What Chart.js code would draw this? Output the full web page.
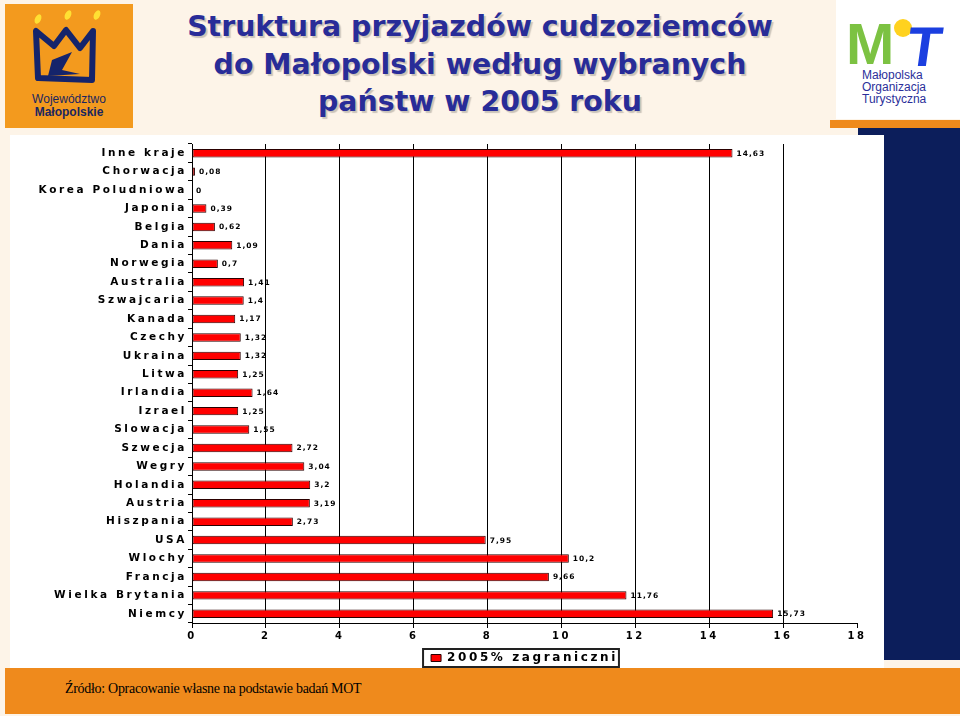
<!DOCTYPE html>
<html><head><meta charset="utf-8">
<script src="https://cdn.jsdelivr.net/npm/chart.js@4"></script>
<style>
html,body{margin:0;padding:0;}
body{width:960px;height:716px;position:relative;overflow:hidden;background:#FDF4E8;font-family:"Liberation Sans",Arial,sans-serif;}
.abs{position:absolute;}
#title{left:0;top:8px;width:960px;text-align:center;color:#282C98;font-family:"DejaVu Sans",Verdana,sans-serif;font-weight:bold;font-size:28.4px;line-height:37.5px;text-shadow:2px 2px 1px rgba(0,0,0,0.2);}
#navy{left:858px;top:128px;width:102px;height:532px;background:#0C1E5B;}
#ostrip{left:830px;top:120px;width:130px;height:8px;background:#EF8A1C;}
#panel{left:10px;top:135px;width:874px;height:533px;background:#fff;}
#band{left:5px;top:668px;width:955px;height:46px;background:#EF8A1C;}
#source{left:65px;top:681px;font-family:"Liberation Serif","Times New Roman",serif;font-size:14px;letter-spacing:-0.3px;color:#000;}
#chartwrap{left:10px;top:135px;width:874px;height:545px;}
</style></head>
<body>
<div class="abs" id="navy"></div>
<div class="abs" id="ostrip"></div>
<svg class="abs" style="left:0;top:0" width="960" height="135">
  <rect x="5" y="4" width="128" height="124" fill="#F39A1E"/>
  <ellipse cx="38" cy="19" rx="3" ry="5" transform="rotate(25 38 19)" fill="#FFE033"/>
  <ellipse cx="68" cy="15" rx="3" ry="5" transform="rotate(25 68 15)" fill="#FFE033"/>
  <ellipse cx="97" cy="15" rx="3" ry="5" transform="rotate(25 97 15)" fill="#FFE033"/>
  <path d="M36 31 L38 78 L92 80 L93 31 L80 48 L66 30 L54 46 Z" fill="none" stroke="#15246B" stroke-width="6" stroke-linejoin="round"/>
  <path d="M52 60 L72 52 L62 70 L80 74 L48 76 Z" fill="#15246B"/>
  <text x="69" y="103" text-anchor="middle" font-family="Liberation Sans, Arial" font-size="12" fill="#1A2660">Województwo</text>
  <text x="69" y="116" text-anchor="middle" font-family="Liberation Sans, Arial" font-size="12" font-weight="bold" fill="#1A2660">Małopolskie</text>
  <rect x="836" y="0" width="124" height="119" fill="#fff"/>
  <text x="846" y="64" font-family="Liberation Sans, Arial" font-size="58" font-weight="bold" fill="#7CC242">M</text>
  <circle cx="903" cy="28" r="9" fill="#FFD21F"/>
  <text x="904" y="66" font-family="Liberation Sans, Arial" font-size="56" font-weight="bold" fill="#1B3FE0" transform="skewX(-8) translate(10 0)">T</text>
  <text x="862" y="79" font-family="Liberation Sans, Arial" font-size="12" fill="#2B2F9A">Małopolska</text>
  <text x="862" y="91" font-family="Liberation Sans, Arial" font-size="12" fill="#2B2F9A">Organizacja</text>
  <text x="862" y="103" font-family="Liberation Sans, Arial" font-size="12" fill="#2B2F9A">Turystyczna</text>
</svg>
<div class="abs" id="title">Struktura przyjazdów cudzoziemców<br>do Małopolski według wybranych<br>państw w 2005 roku</div>
<div class="abs" id="panel"></div>
<div class="abs" id="band"></div>
<div class="abs" id="source">Źródło: Opracowanie własne na podstawie badań MOT</div>
<div class="abs" id="chartwrap"><canvas id="c" width="874" height="545"></canvas></div>
<script>
const categories = ["Inne kraje","Chorwacja","Korea Poludniowa","Japonia","Belgia","Dania","Norwegia","Australia","Szwajcaria","Kanada","Czechy","Ukraina","Litwa","Irlandia","Izrael","Slowacja","Szwecja","Wegry","Holandia","Austria","Hiszpania","USA","Wlochy","Francja","Wielka Brytania","Niemcy"];
const values = [14.63,0.08,0,0.39,0.62,1.09,0.7,1.41,1.4,1.17,1.32,1.32,1.25,1.64,1.25,1.55,2.72,3.04,3.2,3.19,2.73,7.95,10.2,9.66,11.76,15.73];
const seriesName = "2005% zagraniczni";
const xMin = 0, xMax = 18, xStep = 2;

const FONT = '"DejaVu Sans", Verdana, sans-serif';
const SP = '2.6px';
const spacingPlugin = {
  id: 'spacing',
  beforeUpdate(chart){ chart.ctx.letterSpacing = SP; },
  beforeLayout(chart){ chart.ctx.letterSpacing = SP; },
  beforeDraw(chart){ chart.ctx.letterSpacing = SP; }
};
const fmt = v => String(v).replace('.', ',');
const labelPlugin = {
  id: 'valuelabels',
  afterDatasetsDraw(chart){
    const ctx = chart.ctx;
    const meta = chart.getDatasetMeta(0);
    ctx.save();
    ctx.font = 'bold 7.5px ' + FONT;
    ctx.letterSpacing = '1px';
    ctx.fillStyle = '#000';
    ctx.textAlign = 'left';
    ctx.textBaseline = 'middle';
    meta.data.forEach((bar, i) => {
      ctx.fillText(fmt(values[i]), bar.x + 4, bar.y + 0.5);
    });
    ctx.restore();
    ctx.letterSpacing = SP;
  },
  afterDraw(chart){
    const lg = chart.legend;
    if (!lg || !lg.legendHitBoxes || !lg.legendHitBoxes.length) return;
    const hb = lg.legendHitBoxes[0];
    const ctx = chart.ctx;
    ctx.save();
    ctx.strokeStyle = '#222';
    ctx.lineWidth = 2;
    ctx.strokeRect(hb.left - 8, hb.top - 3, hb.width + 9, hb.height + 6);
    ctx.restore();
  }
};

new Chart(document.getElementById('c'), {
  type: 'bar',
  data: {
    labels: categories,
    datasets: [{
      label: seriesName,
      data: values,
      backgroundColor: '#FF0000',
      borderColor: '#2A0000',
      borderWidth: 1,
      borderSkipped: false,
      categoryPercentage: 1,
      barPercentage: 0.46
    }]
  },
  options: {
    indexAxis: 'y',
    responsive: false,
    animation: false,
    devicePixelRatio: 1,
    layout: { padding: { top: 9, right: 27, left: 0, bottom: 6 } },
    plugins: {
      legend: {
        position: 'bottom',
        fullSize: false,
        labels: {
          boxWidth: 10, boxHeight: 7, padding: 7,
          color: '#000',
          font: { family: FONT, size: 12, weight: 'bold' }
        }
      },
      tooltip: { enabled: false }
    },
    scales: {
      x: {
        min: xMin, max: xMax,
        ticks: { stepSize: xStep, color: '#000', padding: 2,
          font: { family: FONT, size: 10, weight: 'bold' } },
        grid: {
          color: c => (c.tick && c.tick.value === xMax) ? 'rgba(0,0,0,0)' : '#000',
          tickColor: '#000', tickLength: 5, lineWidth: 1
        },
        border: { color: '#000', width: 1 },
        afterFit(s){ s.height = 22; }
      },
      y: {
        ticks: { color: '#000', padding: 1, autoSkip: false,
          font: { family: FONT, size: 10.5, weight: 'bold' } },
        grid: { drawOnChartArea: false, drawTicks: true, tickLength: 4, color: '#000', offset: true },
        border: { color: '#000', width: 1 },
        afterFit(s){ s.width = 182; }
      }
    }
  },
  plugins: [spacingPlugin, labelPlugin]
});
</script>
</body></html>
